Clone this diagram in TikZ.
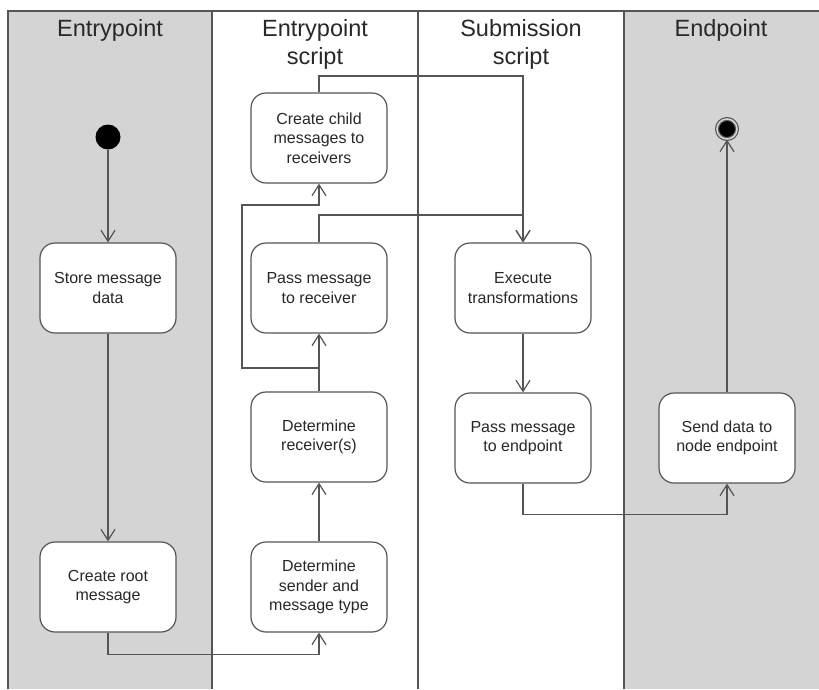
\documentclass[tikz,border=0pt]{standalone}
\usepackage{fontspec}
\setmainfont{Liberation Sans}
\usetikzlibrary{arrows.meta}

\definecolor{lanegray}{RGB}{212,212,212}
\definecolor{linegray}{RGB}{85,85,85}
\definecolor{textgray}{RGB}{40,40,40}

\tikzset{
  lane/.style={draw=linegray, line width=1.2pt},
  lanetitle/.style={text=textgray, font=\fontsize{23.5}{28}\selectfont, align=center, anchor=north},
  activity/.style={draw=linegray, line width=1.2pt, fill=white, rounded corners=15pt,
    minimum width=136pt, minimum height=90pt, align=center, text=textgray,
    font=\fontsize{16}{19.5}\selectfont, inner sep=2pt},
  flow/.style={draw=linegray, line width=1.2pt,
    -{Straight Barb[length=11pt,width=14pt,line width=1.2pt]}},
  startdot/.style={circle, fill=black, minimum size=25pt, inner sep=0pt},
}

\begin{document}
\begin{tikzpicture}[x=1pt,y=-1pt]
  \useasboundingbox (0,0) rectangle (819,689);

  % swimlanes
  \fill[lanegray] (8,11) rectangle (212,689);
  \fill[lanegray] (624,11) rectangle (819,689);
  \draw[lane] (8,689) -- (8,11) -- (819,11);
  \draw[lane] (212,11) -- (212,689);
  \draw[lane] (418,11) -- (418,689);
  \draw[lane] (624,11) -- (624,689);

  \node[lanetitle] (t1) at (110,16) {Entrypoint};
  \node[lanetitle] (t2) at (315,16) {Entrypoint\\script};
  \node[lanetitle] (t3) at (521,16) {Submission\\script};
  \node[lanetitle] (t4) at (721,16) {Endpoint};

  % initial and final states
  \node[startdot] (start) at (108,137) {};
  \node[circle, draw=linegray, line width=1.2pt, fill=black, minimum size=20pt,
        inner sep=0pt, double=lanegray, double distance=1.6pt] (finish) at (727,129) {};

  % activities
  \node[activity] (store)   at (108,288) {Store message\\data};
  \node[activity] (root)    at (108,587) {Create root\\message};
  \node[activity] (sender)  at (319,587) {Determine\\sender and\\message type};
  \node[activity] (recv)    at (319,437) {Determine\\receiver(s)};
  \node[activity] (pass)    at (319,288) {Pass message\\to receiver};
  \node[activity] (child)   at (319,138) {Create child\\messages to\\receivers};
  \node[activity] (exec)    at (523,288) {Execute\\transformations};
  \node[activity] (passend) at (523,438) {Pass message\\to endpoint};
  \node[activity] (send)    at (727,438) {Send data to\\node endpoint};

  % flows
  \draw[flow] (start) -- (store);
  \draw[flow] (store) -- (root);
  \draw[flow] (root.south) -- ++(0,22) -| (sender.south);
  \draw[flow] (sender) -- (recv);
  \draw[flow] (recv) -- (pass);
  \draw[flow] (recv.north) -- (319,368) -- (242,368) -- (242,205) -| (child.south);
  \draw[flow] (pass.north) -- (319,215) -| (exec.north);
  \draw[flow] (child.north) -- (319,76) -| (exec.north);
  \draw[flow] (exec) -- (passend);
  \draw[flow] (passend.south) -- ++(0,31) -| (send.south);
  \draw[flow] (send) -- (finish);
\end{tikzpicture}
\end{document}
